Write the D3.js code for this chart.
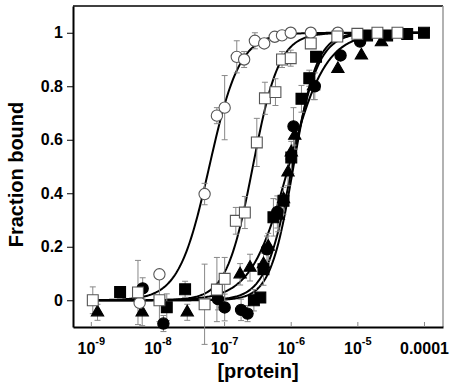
<!DOCTYPE html>
<html>
<head>
<meta charset="utf-8">
<script src="https://cdn.jsdelivr.net/npm/d3@7"></script>
<style>
    body { margin: 0; background: #fff; }
    svg text { font-family: "Liberation Sans", Arial, sans-serif; font-weight: bold; fill: #000; }
</style>
</head>
<body>
<div id="chart"></div>
<script>
// ---- data: [protein] (M), fraction bound, error ----
const openCircleX = [5.4e-9, 1.07e-8, 5.1e-8, 7.8e-8, 1.02e-7, 1.55e-7, 2.0e-7, 2.9e-7, 4.0e-7, 5.75e-7, 7.4e-7, 1.0e-6, 2.0e-6, 5.1e-6];
const openCircleY = [-0.01, 0.097, 0.397, 0.69, 0.72, 0.91, 0.90, 0.97, 0.96, 0.985, 0.99, 1.0, 1.0, 1.0];
const openCircleErr = [0, 0, 0.04, 0.03, 0.12, 0.06, 0.03, 0.03, 0, 0, 0, 0, 0, 0];

const openSquareX = [1.07e-9, 5.1e-9, 1.07e-8, 5.1e-8, 7.8e-8, 1.02e-7, 1.5e-7, 2.05e-7, 3.1e-7, 4.1e-7, 5.9e-7, 7.4e-7, 1.0e-6, 2.0e-6, 5.0e-6, 1.0e-5, 2.0e-5, 4.0e-5];
const openSquareY = [0.0, 0.029, 0.0, -0.015, 0.04, 0.08, 0.297, 0.328, 0.59, 0.755, 0.778, 0.90, 0.905, 0.96, 0.986, 0.996, 1.0, 1.0];
const openSquareErr = [0.05, 0.12, 0.08, 0.15, 0.12, 0.08, 0.05, 0.06, 0.09, 0.06, 0.05, 0.03, 0.03, 0, 0, 0, 0, 0];

const filledSquareX = [2.75e-9, 1.38e-8, 2.6e-8, 2.8e-7, 3.5e-7, 3.9e-7, 5.5e-7, 7.8e-7, 1.02e-6, 1.45e-6, 1.9e-6, 2.4e-6, 1.4e-5, 2.8e-5, 5.6e-5, 1.0e-4];
const filledSquareY = [0.031, -0.026, 0.041, 0.0, 0.01, 0.116, 0.31, 0.372, 0.534, 0.753, 0.83, 0.91, 0.99, 0.99, 0.995, 1.0];
const filledSquareErr = [0, 0.05, 0.03, 0.04, 0, 0.06, 0.07, 0.05, 0.06, 0.05, 0.03, 0, 0, 0, 0, 0];

const filledCircleX = [6.0e-9, 1.23e-8, 8.1e-8, 1.02e-7, 1.8e-7, 2.25e-7, 4.4e-7, 6.3e-7, 1.1e-6, 2.3e-6, 5.6e-6, 1.1e-5];
const filledCircleY = [0.044, -0.087, 0.004, -0.027, -0.036, -0.05, 0.19, 0.33, 0.65, 0.80, 0.915, 0.967];
const filledCircleErr = [0.04, 0.03, 0.04, 0.05, 0.04, 0.03, 0.05, 0.06, 0.07, 0.05, 0, 0];

const filledTriangleX = [1.26e-9, 5.9e-9, 2.8e-8, 1.74e-7, 2.45e-7, 3.9e-7, 4.6e-7, 6.5e-7, 7.8e-7, 9.1e-7, 1.02e-6, 1.15e-6, 2.2e-6, 5.1e-6, 1.15e-5, 2.3e-5];
const filledTriangleY = [-0.045, -0.045, -0.045, 0.097, 0.122, 0.135, 0.2, 0.316, 0.378, 0.478, 0.553, 0.615, 0.80, 0.865, 0.915, 0.965];
const filledTriangleErr = [0.03, 0.05, 0.03, 0.04, 0.05, 0, 0.05, 0.06, 0, 0.05, 0, 0.05, 0.05, 0, 0, 0];

// fitted binding curves (Hill): midpoint and slope, one per series
const curveNames = ['filledTriangle', 'filledCircle', 'filledSquare', 'openCircle', 'openSquare'];
const curveEC50 = [9.3e-7, 1.1e-6, 1.05e-6, 6.0e-8, 2.7e-7];
const curveHill = [1.55, 2.5, 2.2, 1.9, 2.2];
const curveRange = [1e-9, 1e-4];

// axis ticks
const xTickValues = [1e-9, 1e-8, 1e-7, 1e-6, 1e-5, 1e-4];
const xTickLabels = ['10^-9', '10^-8', '10^-7', '10^-6', '10^-5', '0.0001'];
const yTickValues = [0, 0.2, 0.4, 0.6, 0.8, 1];
const yTickLabels = ['0', '0.2', '0.4', '0.6', '0.8', '1'];

class BindingChart {
    constructor(_config, _series) {
        this.config = {
            parentElement: _config.parentElement,
            containerWidth: _config.containerWidth || 455,
            containerHeight: _config.containerHeight || 390,
            margin: { top: 6, right: 12, bottom: 63, left: 73 },
            xDomain: [5.4e-10, 1.93e-4],
            yDomain: [-0.1, 1.1]
        };
        this.series = _series;
        this.initVis();
    }

    initVis() {
        let vis = this;

        vis.width = vis.config.containerWidth - vis.config.margin.left - vis.config.margin.right;
        vis.height = vis.config.containerHeight - vis.config.margin.top - vis.config.margin.bottom;

        vis.svg = d3.select(vis.config.parentElement).append('svg')
            .attr('width', vis.config.containerWidth)
            .attr('height', vis.config.containerHeight);

        vis.chart = vis.svg.append('g')
            .attr('transform', `translate(${vis.config.margin.left},${vis.config.margin.top})`);

        vis.xScale = d3.scaleLog().domain(vis.config.xDomain).range([0, vis.width]);
        vis.yScale = d3.scaleLinear().domain(vis.config.yDomain).range([vis.height, 0]);

        // thin frame on top and right
        vis.chart.append('line')
            .attr('x1', 0).attr('x2', vis.width).attr('y1', 0).attr('y2', 0)
            .attr('stroke', '#000').attr('stroke-width', 1.5);
        vis.chart.append('line')
            .attr('x1', vis.width).attr('x2', vis.width).attr('y1', 0).attr('y2', vis.height)
            .attr('stroke', '#999').attr('stroke-width', 1.5);

        vis.renderAxes();
        vis.renderVis();
    }

    renderAxes() {
        let vis = this;

        // x axis, ticks pointing inward
        const xAxis = d3.axisBottom(vis.xScale)
            .tickValues(xTickValues)
            .tickSizeInner(-5)
            .tickSizeOuter(0)
            .tickFormat('');
        const xG = vis.chart.append('g')
            .attr('transform', `translate(0,${vis.height})`)
            .call(xAxis);
        xG.select('.domain').attr('stroke', '#000').attr('stroke-width', 2);
        xG.selectAll('.tick line').attr('stroke', '#888');

        // tick labels with superscript exponents
        xG.selectAll('.tick').append('text')
            .attr('y', 27)
            .attr('text-anchor', 'middle')
            .attr('font-size', 16)
            .each(function (d) {
                const parts = xTickLabels[xTickValues.indexOf(d)].split('^');
                const t = d3.select(this);
                if (parts.length === 1) {
                    t.text(parts[0]);
                } else {
                    t.append('tspan').text(parts[0]);
                    t.append('tspan').attr('dy', -9).attr('font-size', 11).text(parts[1]);
                }
            });

        // y axis, ticks outward
        const yAxis = d3.axisLeft(vis.yScale)
            .tickValues(yTickValues)
            .tickSizeInner(6)
            .tickSizeOuter(0)
            .tickPadding(4)
            .tickFormat((d, i) => yTickLabels[i]);
        const yG = vis.chart.append('g').call(yAxis);
        yG.select('.domain').attr('stroke', '#000').attr('stroke-width', 2);
        yG.selectAll('.tick line').attr('stroke', '#000');
        yG.selectAll('.tick text').attr('font-size', 16).attr('font-family', null);

        // axis titles
        vis.svg.append('text')
            .attr('transform', `translate(23,${vis.config.margin.top + vis.height / 2 + 8}) rotate(-90)`)
            .attr('text-anchor', 'middle')
            .attr('font-size', 20)
            .text('Fraction bound');

        vis.svg.append('text')
            .attr('x', 258)
            .attr('y', 378)
            .attr('text-anchor', 'middle')
            .attr('font-size', 20)
            .text('[protein]');
    }

    renderVis() {
        let vis = this;

        const hill = (x, ec, n) => 1 / (1 + Math.pow(ec / x, n));
        const logMin = Math.log10(curveRange[0]);
        const logMax = Math.log10(curveRange[1]);
        const samples = d3.range(0, 301).map(i => Math.pow(10, logMin + (logMax - logMin) * i / 300));

        const line = d3.line()
            .x(d => vis.xScale(d[0]))
            .y(d => vis.yScale(d[1]));

        // fitted curves first
        vis.chart.selectAll('.fit')
            .data(vis.series)
            .join('path')
            .attr('class', 'fit')
            .attr('fill', 'none')
            .attr('stroke', '#000')
            .attr('stroke-width', 2)
            .attr('d', s => line(samples.map(x => [x, hill(x, s.ec50, s.hill)])));

        // error bars
        const points = vis.series.flatMap(s => s.x.map((x, i) => ({ s, x, y: s.y[i], err: s.err[i] })));
        const errPoints = points.filter(p => p.err > 0);
        const errG = vis.chart.selectAll('.err')
            .data(errPoints)
            .join('g')
            .attr('class', 'err')
            .attr('stroke', '#888')
            .attr('stroke-width', 1);
        errG.append('line')
            .attr('x1', p => vis.xScale(p.x)).attr('x2', p => vis.xScale(p.x))
            .attr('y1', p => vis.yScale(p.y - p.err)).attr('y2', p => vis.yScale(p.y + p.err));
        [-1, 1].forEach(sign => {
            errG.append('line')
                .attr('x1', p => vis.xScale(p.x) - 3).attr('x2', p => vis.xScale(p.x) + 3)
                .attr('y1', p => vis.yScale(p.y + sign * p.err)).attr('y2', p => vis.yScale(p.y + sign * p.err));
        });

        // markers
        const symbols = { circle: d3.symbolCircle, square: d3.symbolSquare, triangle: d3.symbolTriangle };
        const sizes = { circle: 100, square: 118, triangle: 66 };
        vis.chart.selectAll('.marker')
            .data(points)
            .join('path')
            .attr('class', 'marker')
            .attr('transform', p => `translate(${vis.xScale(p.x)},${vis.yScale(p.y)})`)
            .attr('d', p => d3.symbol().type(symbols[p.s.shape]).size(sizes[p.s.shape])())
            .attr('fill', p => p.s.filled ? '#000' : '#fff')
            .attr('stroke', p => p.s.filled ? '#000' : '#555')
            .attr('stroke-width', 1.1);
    }
}

const seriesInfo = {
    filledTriangle: { shape: 'triangle', filled: true, x: filledTriangleX, y: filledTriangleY, err: filledTriangleErr },
    filledCircle: { shape: 'circle', filled: true, x: filledCircleX, y: filledCircleY, err: filledCircleErr },
    filledSquare: { shape: 'square', filled: true, x: filledSquareX, y: filledSquareY, err: filledSquareErr },
    openCircle: { shape: 'circle', filled: false, x: openCircleX, y: openCircleY, err: openCircleErr },
    openSquare: { shape: 'square', filled: false, x: openSquareX, y: openSquareY, err: openSquareErr }
};
const series = curveNames.map((name, i) => Object.assign({ name, ec50: curveEC50[i], hill: curveHill[i] }, seriesInfo[name]));

new BindingChart({ parentElement: '#chart', containerWidth: 455, containerHeight: 390 }, series);
</script>
</body>
</html>
